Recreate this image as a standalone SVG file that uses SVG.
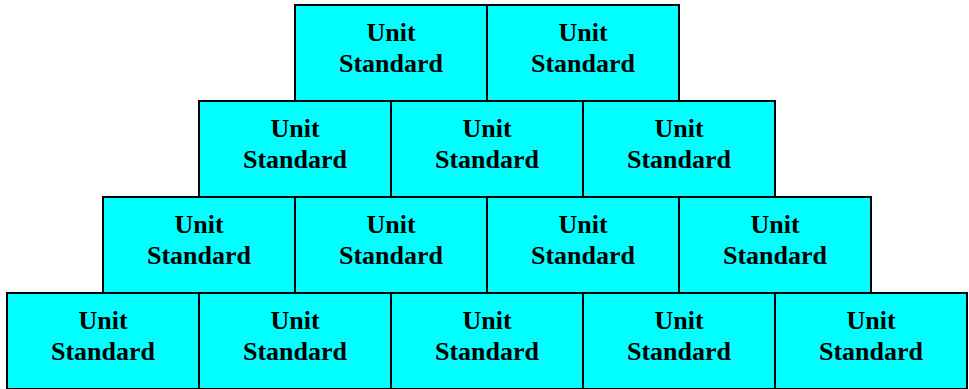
<svg xmlns="http://www.w3.org/2000/svg" width="969" height="389" viewBox="0 0 969 389">
<style>
.box{fill:#00FFFF;stroke:#000;stroke-width:2}
.t{font-family:"Liberation Serif","Times New Roman",serif;font-weight:bold;font-size:26px;fill:#000;text-anchor:middle}
</style>
<defs>
<g id="u">
<rect class="box" x="0" y="0" width="192" height="96"/>
<text class="t" x="96" y="36">Unit</text>
<text class="t" x="96" y="67">Standard</text>
</g>
</defs>
<rect width="969" height="389" fill="#fff"/>
<g id="connectors"></g>
<g id="r1n1"><use href="#u" x="295" y="5"/></g>
<g id="r1n2"><use href="#u" x="487" y="5"/></g>
<g id="r2n1"><use href="#u" x="199" y="101"/></g>
<g id="r2n2"><use href="#u" x="391" y="101"/></g>
<g id="r2n3"><use href="#u" x="583" y="101"/></g>
<g id="r3n1"><use href="#u" x="103" y="197"/></g>
<g id="r3n2"><use href="#u" x="295" y="197"/></g>
<g id="r3n3"><use href="#u" x="487" y="197"/></g>
<g id="r3n4"><use href="#u" x="679" y="197"/></g>
<g id="r4n1"><use href="#u" x="7" y="293"/></g>
<g id="r4n2"><use href="#u" x="199" y="293"/></g>
<g id="r4n3"><use href="#u" x="391" y="293"/></g>
<g id="r4n4"><use href="#u" x="583" y="293"/></g>
<g id="r4n5"><use href="#u" x="775" y="293"/></g>
</svg>
